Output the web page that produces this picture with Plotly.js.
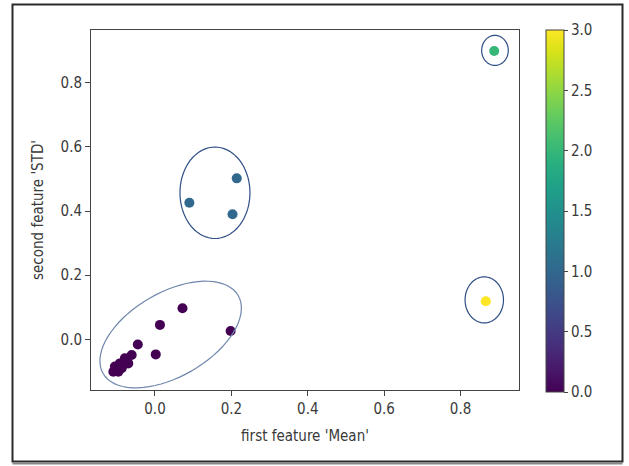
<!DOCTYPE html>
<html>
<head>
<meta charset="utf-8">
<script src="https://cdn.plot.ly/plotly-3.0.1.min.js"></script>
<style>html,body{margin:0;padding:0;background:#fff;}#chart{width:629px;height:466px;}</style>
</head>
<body>
<div id="chart"></div>
<script>
// Data
const featureMean = [0.072, 0.013, 0.198, -0.045, 0.002, -0.061, -0.079, -0.092, -0.070, -0.105, -0.109, -0.087, -0.096,
                     0.214, 0.090, 0.203,
                     0.888,
                     0.866];
const featureStd  = [0.097, 0.045, 0.026, -0.016, -0.047, -0.049, -0.059, -0.075, -0.075, -0.085, -0.101, -0.090, -0.101,
                     0.502, 0.426, 0.390,
                     0.899,
                     0.119];
const clusterLabel = [0,0,0,0,0,0,0,0,0,0,0,0,0,
                      1,1,1,
                      2,
                      3];
const colorbarTicks = [0.0, 0.5, 1.0, 1.5, 2.0, 2.5, 3.0];
const xTicks = [0.0, 0.2, 0.4, 0.6, 0.8];
const yTicks = [0.0, 0.2, 0.4, 0.6, 0.8];

// Hand-drawn cluster outlines (annotation geometry)
const ellipseCx = [0.041, 0.157, 0.890, 0.862];
const ellipseCy = [0.015, 0.457, 0.901, 0.123];
const ellipseA  = [78, 35, 13.3, 19.2];   // semi-axis (px)
const ellipseB  = [42, 45.7, 15, 23];     // semi-axis (px)
const ellipseRot = [30, 0, 0, 0];        // degrees, counter-clockwise
const ellipseColor = ['#6f87ad', '#2f4f85', '#2f4f85', '#2f4f85'];

const xRange = [-0.1675, 0.9529];
const yRange = [-0.158, 0.9646];
const plotW = 428, plotH = 360;
const sx = plotW / (xRange[1] - xRange[0]);
const sy = plotH / (yRange[1] - yRange[0]);

function ellipsePath(cx, cy, a, b, rotDeg) {
  const th = rotDeg * Math.PI / 180;
  let d = '';
  const n = 72;
  for (let i = 0; i <= n; i++) {
    const t = 2 * Math.PI * i / n;
    const px = a * Math.cos(t) * Math.cos(th) - b * Math.sin(t) * Math.sin(th);
    const py = a * Math.cos(t) * Math.sin(th) + b * Math.sin(t) * Math.cos(th);
    const x = cx + px / sx, y = cy + py / sy;
    d += (i === 0 ? 'M' : 'L') + x.toFixed(5) + ',' + y.toFixed(5);
  }
  return d + 'Z';
}

const shapes = ellipseCx.map((cx, i) => ({
  type: 'path', xref: 'x', yref: 'y',
  path: ellipsePath(cx, ellipseCy[i], ellipseA[i], ellipseB[i], ellipseRot[i]),
  line: {color: ellipseColor[i], width: 1.2}, layer: 'above'
}));
// outer picture frame
shapes.push({type: 'rect', xref: 'paper', yref: 'paper',
  x0: (12.5 - 91) / plotW, x1: (622.5 - 91) / plotW,
  y0: (390 - 461.5) / plotH, y1: (390 - 4.5) / plotH,
  line: {color: '#2a2a2a', width: 2}});
shapes.push({type: 'line', xref: 'paper', yref: 'paper',
  x0: (12.5 - 91) / plotW, x1: (622.5 - 91) / plotW,
  y0: (390 - 463.5) / plotH, y1: (390 - 463.5) / plotH,
  line: {color: '#888', width: 2}});

const font = {family: 'DejaVu Sans Condensed, DejaVu Sans, sans-serif', size: 15, color: '#3a3a3a'};

const trace = {
  type: 'scatter', mode: 'markers',
  x: featureMean, y: featureStd,
  marker: {
    size: 10, color: clusterLabel, colorscale: 'Viridis', cmin: 0, cmax: 3,
    line: {width: 0},
    showscale: true,
    colorbar: {
      x: (546 - 91) / plotW, xanchor: 'left', y: 0.497, yanchor: 'middle',
      len: 362 / plotH, lenmode: 'fraction', thickness: 18, thicknessmode: 'pixels',
      xpad: 0, ypad: 0, outlinewidth: 1, outlinecolor: '#444',
      tickvals: colorbarTicks, ticktext: colorbarTicks.map(v => v.toFixed(1)),
      ticks: 'outside', ticklen: 4, tickcolor: '#444', tickfont: font
    }
  },
  hoverinfo: 'x+y'
};

const layout = {
  width: 629, height: 466,
  margin: {l: 91, r: 110, t: 30, b: 76},
  paper_bgcolor: '#fff', plot_bgcolor: '#fff',
  font: font,
  showlegend: false,
  xaxis: {
    range: xRange, tickvals: xTicks, ticktext: xTicks.map(v => v.toFixed(1)),
    showgrid: false, zeroline: false, showline: true, mirror: true,
    linecolor: '#444', linewidth: 1, ticks: 'outside', ticklen: 5, tickcolor: '#444',
    tickfont: font,
    title: {text: "first feature 'Mean'", font: font, standoff: 13}
  },
  yaxis: {
    range: yRange, tickvals: yTicks, ticktext: yTicks.map(v => v.toFixed(1)),
    showgrid: false, zeroline: false, showline: true, mirror: true,
    linecolor: '#444', linewidth: 1, ticks: 'outside', ticklen: 5, tickcolor: '#444',
    tickfont: font,
    title: {text: "second feature 'STD'", font: font, standoff: 13}
  },
  shapes: shapes
};

Plotly.newPlot('chart', [trace], layout, {staticPlot: true, displayModeBar: false});
</script>
</body>
</html>
